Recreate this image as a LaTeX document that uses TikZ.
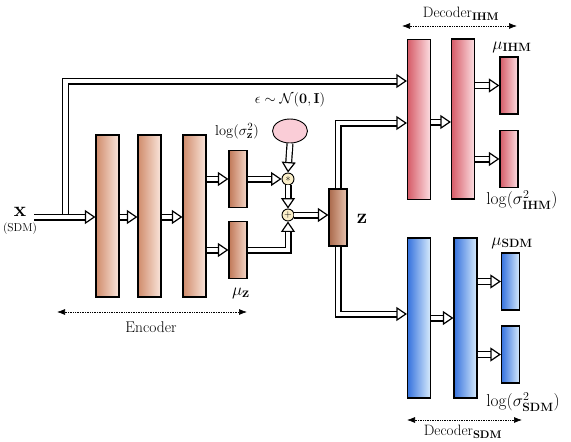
\documentclass[tikz,border=0pt]{standalone}
\usepackage{amsmath,amssymb}
\usetikzlibrary{arrows.meta,calc,shapes.geometric}
\definecolor{encL}{RGB}{208,140,108}
\definecolor{encR}{RGB}{250,230,220}
\definecolor{smL}{RGB}{192,120,88}
\definecolor{smR}{RGB}{245,215,200}
\definecolor{zL}{RGB}{170,105,75}
\definecolor{zR}{RGB}{232,195,175}
\definecolor{ihmL}{RGB}{214,92,104}
\definecolor{ihmR}{RGB}{252,222,226}
\definecolor{sdmL}{RGB}{55,115,222}
\definecolor{sdmR}{RGB}{215,235,252}
\definecolor{epsfill}{RGB}{250,205,215}
\definecolor{opfill}{RGB}{250,238,200}
\tikzset{
  layer/.style={draw=black, line width=1.2pt, inner sep=0pt, minimum width=#1},
  enc/.style={layer=23pt, minimum height=162pt, left color=encL, right color=encR},
  encsm/.style={layer=18pt, minimum height=57pt, left color=smL, right color=smR},
  zbox/.style={layer=18pt, minimum height=57pt, left color=zL, right color=zR},
  ihm/.style={layer=23pt, minimum height=160pt, left color=ihmL, right color=ihmR},
  ihmsm/.style={layer=18pt, minimum height=57pt, left color=ihmL, right color=ihmR},
  sdm/.style={layer=23pt, minimum height=160pt, left color=sdmL, right color=sdmR},
  sdmsm/.style={layer=18pt, minimum height=57pt, left color=sdmL, right color=sdmR},
  op/.style={draw=black, line width=0.9pt, circle, fill=opfill, minimum size=12pt, inner sep=0pt},
  dblline/.style={draw=black, line width=1.2pt, double=white, double distance=4.6pt, shorten >=7pt},
  tipline/.style={draw=white, line width=1.2pt,
    -{Triangle[open, length=10.5pt, width=14pt, color=black, fill=white]}},
  span/.style={densely dotted, line width=0.7pt, {Latex[length=8pt,width=6pt]}-{Latex[length=8pt,width=6pt]}},
  lbl/.style={inner sep=0pt},
}
\newcommand{\dcon}[1]{\draw[dblline] #1; \draw[tipline] #1;}
\begin{document}
\begin{tikzpicture}[x=1pt, y=-1pt]
\useasboundingbox (0,0) rectangle (571,442);
% encoder
\node[enc] (e1) at (107.5,216) {};
\node[enc] (e2) at (149.5,216) {};
\node[enc] (e3) at (194.5,216) {};
\node[encsm] (ls) at (238,179) {};
\node[encsm] (mu) at (238,250) {};
\node[draw=black, line width=0.9pt, ellipse, fill=epsfill, minimum width=35pt, minimum height=24pt, inner sep=0pt] (eps) at (290,131) {};
\node[op] (mult) at (288,179) {$\ast$};
\node[op] (plus) at (288,215) {$+$};
\node[zbox] (z) at (338,217.5) {};
% decoder IHM
\node[ihm] (d1i) at (419,119.5) {};
\node[ihm] (d2i) at (463,119) {};
\node[ihmsm] (mi) at (509,85.5) {};
\node[ihmsm] (si) at (509,159) {};
% decoder SDM
\node[sdm] (d1s) at (419,318) {};
\node[sdm] (d2s) at (465.5,318) {};
\node[sdmsm] (ms) at (510.5,281.5) {};
\node[sdmsm] (ss) at (510.5,354.5) {};
% labels
\node[lbl] (xl) at (20,212) {\fontsize{20}{24}\selectfont $\mathbf{x}$};
\node[lbl] (xs) at (20,229) {\fontsize{11.5}{13}\selectfont (SDM)};
\node[lbl] (epsl) at (290,100) {\fontsize{13.5}{16}\selectfont $\epsilon\sim\mathcal{N}(\mathbf{0},\mathbf{I})$};
\node[lbl] (lsl) at (237,131) {\fontsize{15}{18}\selectfont $\log(\sigma^2_{\mathbf{z}})$};
\node[lbl] (mul) at (241,293) {\fontsize{19}{22}\selectfont $\mu_{\mathbf{z}}$};
\node[lbl] (zl) at (362,219) {\fontsize{21}{24}\selectfont $\mathbf{z}$};
\node[lbl] (mil) at (512,47) {\fontsize{17}{20}\selectfont $\mu_{\mathbf{IHM}}$};
\node[lbl] (sil) at (522,200) {\fontsize{17}{20}\selectfont $\log(\sigma^2_{\mathbf{IHM}})$};
\node[lbl] (msl) at (512,243) {\fontsize{17}{20}\selectfont $\mu_{\mathbf{SDM}}$};
\node[lbl] (ssl) at (523,402) {\fontsize{17}{20}\selectfont $\log(\sigma^2_{\mathbf{SDM}})$};
\node[lbl] (encl) at (151,327) {\fontsize{15.5}{18}\selectfont Encoder};
\node[lbl] (dil) at (461,14) {\fontsize{15}{18}\selectfont Decoder$_{\mathbf{IHM}}$};
\node[lbl] (dsl) at (463,432) {\fontsize{15}{18}\selectfont Decoder$_{\mathbf{SDM}}$};
% span arrows
\coordinate (ea) at (57,312); \coordinate (eb) at (247,312);
\draw[span] (ea) -- (eb);
\coordinate (ia) at (402,26); \coordinate (ib) at (517,26);
\draw[span] (ia) -- (ib);
\coordinate (sa) at (407,420); \coordinate (sb) at (522,420);
\draw[span] (sa) -- (sb);
% connectors
\coordinate (xin) at (34,217);
\coordinate (j) at (65.5,214.1);
\coordinate (y81) at (0,81);
\coordinate (y123) at (0,123);
\coordinate (y314) at (0,314);
\coordinate (y122) at (0,122);
\dcon{(xin) -- (e1.west |- xin)}
\dcon{(j) |- (d1i.west |- y81)}
\dcon{(e1.east |- xin) -- (e2.west |- xin)}
\dcon{(e2.east |- xin) -- (e3.west |- xin)}
\dcon{(e3.east |- ls.west) -- (ls.west)}
\dcon{(e3.east |- mu.west) -- (mu.west)}
\dcon{(ls.east) -- (mult.west)}
\dcon{(eps.south) -- (mult.north)}
\dcon{(mult.south) -- (plus.north)}
\dcon{(mu.east) -| (plus.south)}
\dcon{(plus.east) -- (z.west |- plus.east)}
\dcon{(z.north) |- (d1i.west |- y123)}
\dcon{(z.south) |- (d1s.west |- y314)}
\dcon{(d1i.east |- y122) -- (d2i.west |- y122)}
\dcon{(d2i.east |- mi.west) -- (mi.west)}
\dcon{(d2i.east |- si.west) -- (si.west)}
\dcon{(d1s.east) -- (d2s.west)}
\dcon{(d2s.east |- ms.west) -- (ms.west)}
\dcon{(d2s.east |- ss.west) -- (ss.west)}
\end{tikzpicture}
\end{document}
